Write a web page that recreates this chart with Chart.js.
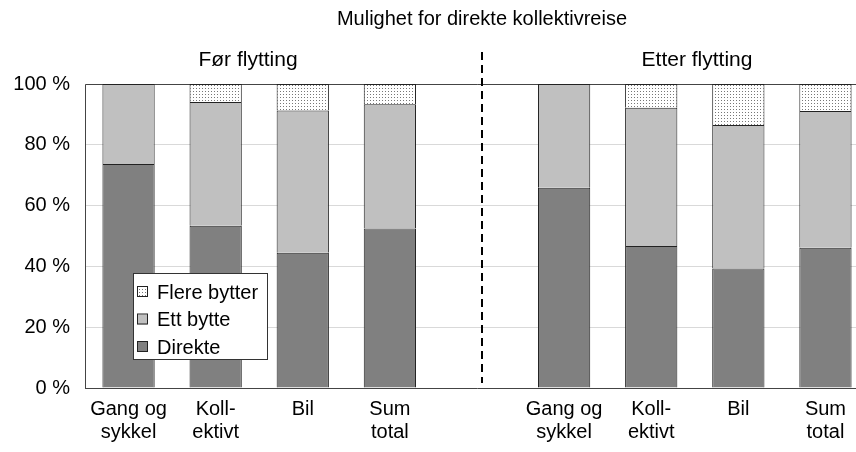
<!DOCTYPE html>
<html>
<head>
<meta charset="utf-8">
<script src="https://cdn.jsdelivr.net/npm/chart.js@4/dist/chart.umd.min.js"></script>
<style>
  html, body { margin: 0; padding: 0; background: #fff; overflow: hidden; }
  #wrap { width: 856px; height: 452px; overflow: hidden; }
</style>
</head>
<body>
<div id="wrap"><canvas id="c" width="869" height="452"></canvas></div>
<script>
// categories (index 4 is the empty gap between the two groups)
const kategorier = [
  ["Gang og", "sykkel"], ["Koll-", "ektivt"], "Bil", ["Sum", "total"], "",
  ["Gang og", "sykkel"], ["Koll-", "ektivt"], "Bil", ["Sum", "total"]
];
const direkte = [73.7, 53.4, 44.5, 52.5, null, 65.9, 46.7, 39.3, 46.1];
const ettBytte = [26.3, 40.7, 46.8, 40.8, null, 34.1, 45.5, 47.2, 45.0];
const flereBytter = [0, 5.9, 8.7, 6.7, null, 0, 7.8, 13.5, 8.9];
const yTicks = [0, 20, 40, 60, 80, 100];

const tittel = "Mulighet for direkte kollektivreise";
const gruppeFor = "Før flytting";
const gruppeEtter = "Etter flytting";

const fontFam = "'Liberation Sans', Arial, sans-serif";

// dotted fill for "Flere bytter"
function dotPattern() {
  const p = document.createElement("canvas");
  p.width = 3;
  p.height = 3;
  const g = p.getContext("2d");
  g.fillStyle = "#fff";
  g.fillRect(0, 0, 3, 3);
  g.fillStyle = "#777";
  g.fillRect(1, 1, 1, 1);
  return g.createPattern(p, "repeat");
}
const ctx = document.getElementById("c").getContext("2d");
const prikker = dotPattern();

// frame, divider, titles and legend box
const decor = {
  id: "decor",
  beforeDatasetsDraw(chart) {
    const a = chart.chartArea;
    const c = chart.ctx;
    c.save();
    c.strokeStyle = "#444";
    c.lineWidth = 1;
    c.beginPath();
    c.moveTo(a.left + 0.5, a.bottom);
    c.lineTo(a.left + 0.5, a.top + 0.5);
    c.lineTo(a.right, a.top + 0.5);
    c.stroke();
    c.restore();
  },
  afterDraw(chart) {
    const c = chart.ctx;
    const x = chart.scales.x;
    c.save();
    // dashed divider
    const dx = Math.round(x.getPixelForValue(4)) + 5;
    c.strokeStyle = "#000";
    c.lineWidth = 2;
    c.setLineDash([8, 5]);
    c.beginPath();
    c.moveTo(dx, 52);
    c.lineTo(dx, 383);
    c.stroke();
    c.setLineDash([]);

    c.fillStyle = "#000";
    c.textAlign = "center";
    c.textBaseline = "middle";
    c.font = "20px " + fontFam;
    c.fillText(tittel, dx, 19);
    c.font = "21px " + fontFam;
    c.fillText(gruppeFor, 248, 60);
    c.fillText(gruppeEtter, 697, 60);

    // legend
    const items = [
      { t: "Flere bytter", f: prikker },
      { t: "Ett bytte", f: "#c0c0c0" },
      { t: "Direkte", f: "#808080" }
    ];
    const lx = 133, ly = 273, lw = 134, lh = 86;
    c.fillStyle = "#fff";
    c.fillRect(lx, ly, lw, lh);
    c.strokeStyle = "#333";
    c.lineWidth = 1;
    c.strokeRect(lx + 0.5, ly + 0.5, lw, lh);
    c.textAlign = "left";
    c.font = "20px " + fontFam;
    items.forEach((it, i) => {
      const cy = 292 + i * 27.5;
      c.fillStyle = it.f;
      c.fillRect(137, cy - 5, 10, 10);
      c.strokeStyle = "#222";
      c.strokeRect(137.5, cy - 5.5, 10, 10);
      c.fillStyle = "#000";
      c.fillText(it.t, 157, cy + 1);
    });
    c.restore();
  }
};

new Chart(ctx, {
  type: "bar",
  data: {
    labels: kategorier,
    datasets: [
      { label: "Direkte", data: direkte, backgroundColor: "#808080", borderColor: "#222", borderWidth: 1 },
      { label: "Ett bytte", data: ettBytte, backgroundColor: "#c0c0c0", borderColor: "#222", borderWidth: 1 },
      { label: "Flere bytter", data: flereBytter, backgroundColor: prikker, borderColor: "#222", borderWidth: 1 }
    ]
  },
  options: {
    responsive: false,
    animation: false,
    layout: { padding: { top: 84, left: 0, right: 0, bottom: 0 } },
    plugins: {
      legend: { display: false },
      tooltip: { enabled: false },
      title: { display: false }
    },
    datasets: { bar: { categoryPercentage: 1, barPercentage: 0.6 } },
    scales: {
      x: {
        stacked: true,
        grid: { display: false, drawTicks: false },
        border: { display: true, color: "#444", width: 1 },
        ticks: {
          color: "#000",
          font: { family: fontFam, size: 20, lineHeight: 1.15 },
          padding: 10,
          maxRotation: 0,
          autoSkip: false
        },
        afterFit(s) { s.height = 64; }
      },
      y: {
        stacked: true,
        min: 0,
        max: 100,
        afterBuildTicks(s) { s.ticks = yTicks.map(v => ({ value: v })); },
        grid: { color: "#d9d9d9", drawTicks: false },
        border: { display: false },
        ticks: {
          color: "#000",
          font: { family: fontFam, size: 20 },
          padding: 15,
          callback: v => v + " %"
        },
        afterFit(s) { s.width = 85; }
      }
    }
  },
  plugins: [decor]
});
</script>
</body>
</html>
